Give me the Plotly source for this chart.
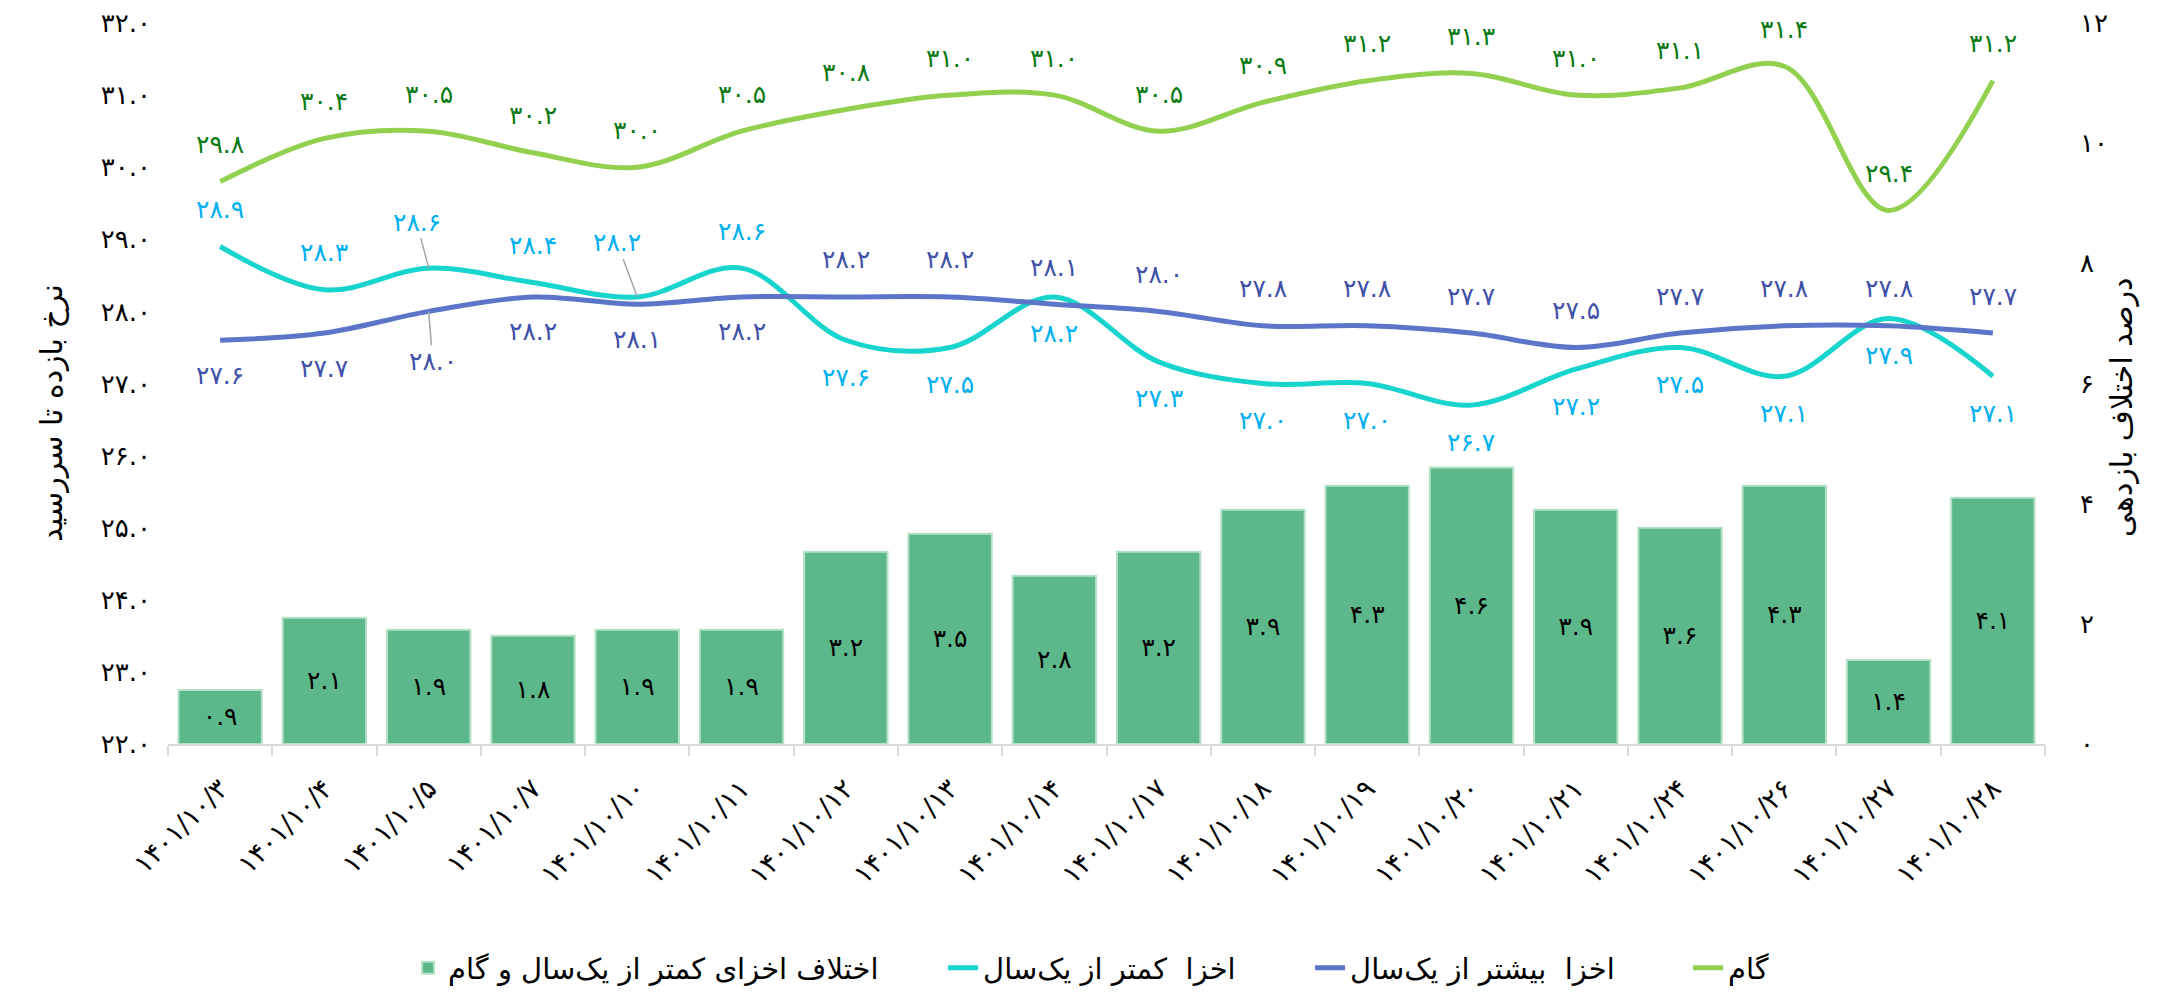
import plotly.graph_objects as go

# ---------------- data ----------------
days = [3, 4, 5, 7, 10, 11, 12, 13, 14, 17, 18, 19, 20, 21, 24, 26, 27, 28]
gam = [29.8, 30.4, 30.5, 30.2, 30.0, 30.5, 30.8, 31.0, 31.0, 30.5, 30.9, 31.2, 31.3, 31.0, 31.1, 31.4, 29.4, 31.2]
less_1y = [28.9, 28.3, 28.6, 28.4, 28.2, 28.6, 27.6, 27.5, 28.2, 27.3, 27.0, 27.0, 26.7, 27.2, 27.5, 27.1, 27.9, 27.1]
more_1y = [27.6, 27.7, 28.0, 28.2, 28.1, 28.2, 28.2, 28.2, 28.1, 28.0, 27.8, 27.8, 27.7, 27.5, 27.7, 27.8, 27.8, 27.7]
diff = [0.9, 2.1, 1.9, 1.8, 1.9, 1.9, 3.2, 3.5, 2.8, 3.2, 3.9, 4.3, 4.6, 3.9, 3.6, 4.3, 1.4, 4.1]
left_ticks = [22, 23, 24, 25, 26, 27, 28, 29, 30, 31, 32]
right_ticks = [0, 2, 4, 6, 8, 10, 12]

name_bar = "اختلاف اخزای کمتر از یک\u200cسال و گام"
name_less = "اخزا  کمتر از یک\u200cسال"
name_more = "اخزا  بیشتر از یک\u200cسال"
name_gam = "گام"
title_left = "نرخ بازده تا سررسید"
title_right = "درصد اختلاف بازدهی"

FA = str.maketrans("0123456789", "۰۱۲۳۴۵۶۷۸۹")


def fa(s):
    return str(s).translate(FA)


cats = [fa(f"1401/10/{d}") for d in days]

FONT = "DejaVu Sans, Noto Sans Arabic, sans-serif"
C_GAM, C_LESS, C_MORE = "#92d050", "#17d4cc", "#5b76c8"
T_GAM, T_LESS, T_MORE = "#0b7a14", "#00b0f0", "#3f51a8"

fig = go.Figure()
fig.add_trace(go.Bar(
    x=cats, y=diff, yaxis="y2", name=name_bar, legendwidth=490,
    marker=dict(color="#5cb88a", line=dict(color="#b5e1c8", width=2)),
    text=[fa(f"{v:.1f}") for v in diff], textposition="inside",
    insidetextanchor="middle", textangle=0,
    textfont=dict(family=FONT, size=25, color="black"),
))
for vals, col, nm, lw in [(less_1y, C_LESS, name_less, 322), (more_1y, C_MORE, name_more, 333), (gam, C_GAM, name_gam, None)]:
    fig.add_trace(go.Scatter(
        x=cats, y=vals, name=nm, mode="lines", legendwidth=lw,
        line=dict(color=col, width=5, shape="spline", smoothing=1.0),
    ))

ann = []
LAB = 25


def label(i, v, color, dy, dx=0, leader=False):
    a = dict(x=cats[i], y=v, xref="x", yref="y", text=fa(f"{v:.1f}"),
             font=dict(family=FONT, size=LAB, color=color))
    if leader:
        a.update(showarrow=True, arrowhead=0, arrowwidth=1.5, arrowcolor="#a6a6a6",
                 ax=dx, ay=-dy, standoff=0)
    else:
        a.update(showarrow=False, yshift=dy, xshift=dx)
    ann.append(a)


for i, v in enumerate(gam):
    label(i, v, T_GAM, 37)
for i, v in enumerate(less_1y):
    if i == 2:
        label(i, v, T_LESS, 46, -12, leader=True)
    elif i == 4:
        label(i, v, T_LESS, 54, -20, leader=True)
    elif i < 6:
        label(i, v, T_LESS, 37)
    else:
        label(i, v, T_LESS, -37)
for i, v in enumerate(more_1y):
    if i == 2:
        label(i, v, T_MORE, -50, 4, leader=True)
    elif i < 6:
        label(i, v, T_MORE, -35)
    else:
        label(i, v, T_MORE, 37)

# axis titles as rotated annotations (positions in plot-area fractions)
ann.append(dict(text=title_left, xref="paper", yref="paper", x=-0.0725, y=0.46,
                textangle=-90, showarrow=False, font=dict(family=FONT, size=30, color="black")))
ann.append(dict(text=title_right, xref="paper", yref="paper", x=1.0512, y=0.467,
                textangle=-90, showarrow=False, font=dict(family=FONT, size=30, color="black")))

fig.update_layout(
    width=2143, height=978,
    margin=dict(l=160, r=106, t=15, b=242),
    paper_bgcolor="white", plot_bgcolor="white",
    font=dict(family=FONT, color="black", size=24),
    bargap=0.2, showlegend=True,
    legend=dict(orientation="h", xref="container", yref="container", x=0.5054, xanchor="center",
                y=0.0184, yanchor="middle",
                font=dict(family=FONT, size=29, color="black"), traceorder="normal"),
    xaxis=dict(type="category", tickangle=-45, tickfont=dict(size=27, color="black"),
               ticks="outside", tickson="boundaries", ticklen=10, tickcolor="#d9d9d9", tickwidth=2,
               showline=True, linecolor="#d9d9d9", linewidth=2, showgrid=False, automargin=False,
               ticklabelstandoff=16),
    yaxis=dict(range=[22, 32], tickvals=left_ticks, ticktext=[fa(f"{t:.1f}") for t in left_ticks],
               showgrid=False, zeroline=False, showline=False, ticks="", automargin=False,
               tickfont=dict(size=26, color="black"), ticklabelstandoff=16, ticklabeloverflow="allow"),
    yaxis2=dict(range=[0, 12], overlaying="y", side="right", tickvals=right_ticks,
                ticktext=[fa(t) for t in right_ticks], showgrid=False, zeroline=False, automargin=False,
                showline=False, ticks="", tickfont=dict(size=26, color="black"), ticklabelstandoff=34,
                ticklabeloverflow="allow"),
    annotations=ann,
)

fig.write_html("out.html")
